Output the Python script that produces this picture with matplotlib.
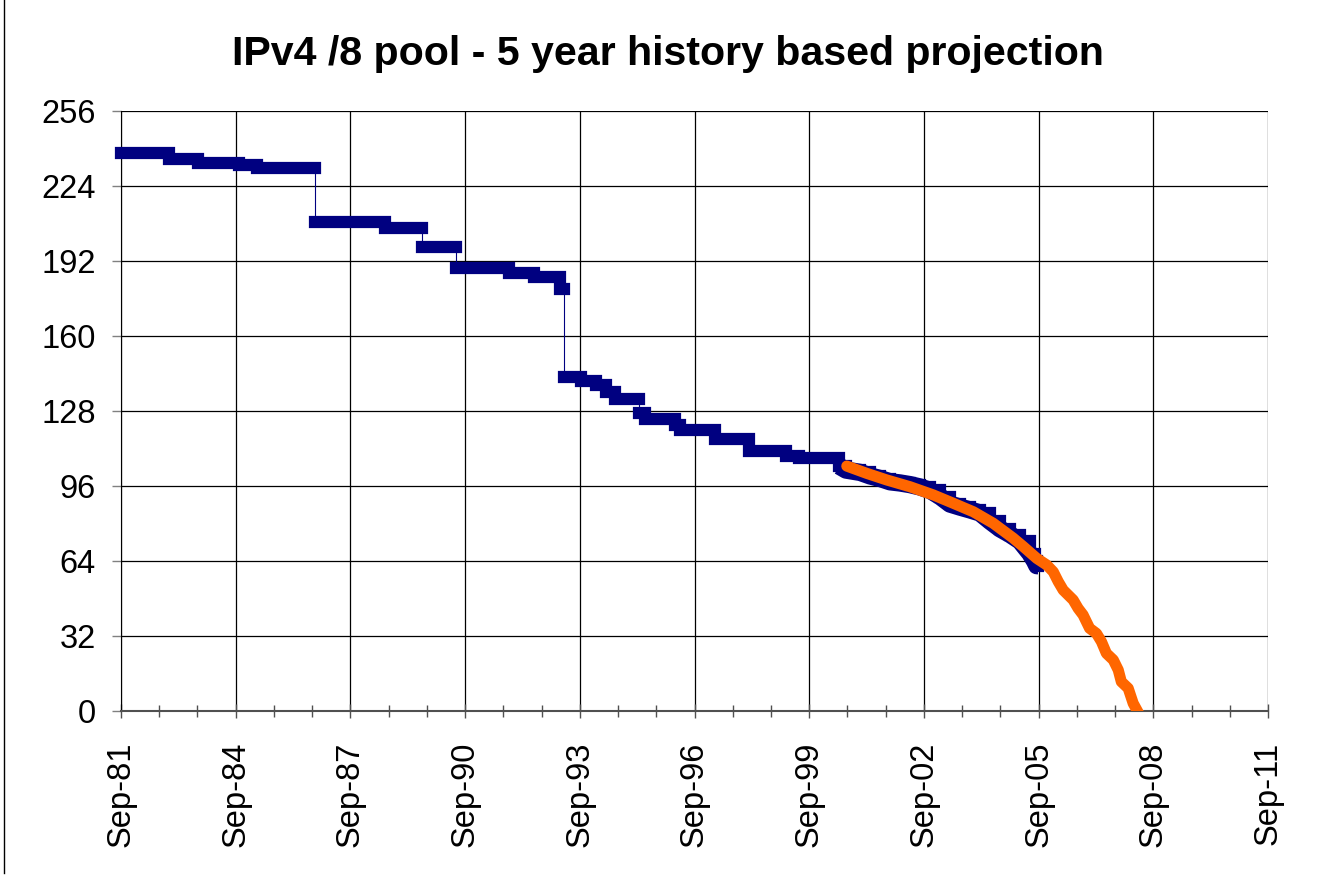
import matplotlib
matplotlib.use("Agg")
import matplotlib.pyplot as plt
from matplotlib.lines import Line2D

plt.rcParams["font.family"] = ["Liberation Sans", "DejaVu Sans"]

# free /8 blocks, history (decimal years, Sep = .67); last entry closes the final step
hist_year = [1981.67, 1982.93, 1983.68, 1984.75, 1985.22, 1986.75, 1988.56, 1989.54,
             1990.43, 1991.81, 1992.47, 1993.15, 1993.25, 1993.70, 1994.09, 1994.35,
             1994.59, 1995.22, 1995.37, 1996.15, 1996.30, 1997.20, 1998.09, 1999.06,
             1999.40, 2000.45, 2000.63, 2001.00, 2001.26, 2001.52, 2001.78, 2002.04,
             2002.30, 2002.56, 2002.83, 2003.09, 2003.35, 2003.61, 2003.87, 2004.13,
             2004.40, 2004.66, 2004.92, 2005.18, 2005.44, 2005.56, 2005.62, 2005.65]
hist_free = [238, 235.5, 234, 233, 231.5, 208.5, 206, 198,
             189, 187, 185, 180, 142.5, 141, 139, 136,
             133, 127, 124.5, 122, 119.7, 116, 111, 109,
             108, 104.5, 102.8, 101.8, 100.3, 99.2, 97.8, 97.3,
             96.6, 95.6, 94.1, 91.5, 88.3, 87, 85.8, 84.5,
             80.9, 77.7, 75.3, 72.5, 67.2, 64, 62, 62]

# 5 year history based projection
proj_year = [2000.65, 2001.17, 2001.69, 2002.30, 2002.91, 2003.44, 2003.96, 2004.48,
             2005.00, 2005.27, 2005.62, 2005.88, 2006.05, 2006.18, 2006.31, 2006.44,
             2006.57, 2006.70, 2006.83, 2007.00, 2007.18, 2007.31, 2007.44, 2007.62,
             2007.75, 2007.83, 2008.01, 2008.14, 2008.35]
proj_free = [104.5, 101.4, 98.6, 95.7, 92.2, 88.6, 85.0, 80.1,
             73.8, 70.1, 65.1, 62.3, 59.4, 55.2, 51.6, 49.5,
             47.4, 43.8, 41.0, 35.3, 33.1, 29.6, 24.6, 21.8,
             17.5, 12.5, 9.7, 3.3, -3]

x_labels = ["Sep-81", "Sep-84", "Sep-87", "Sep-90", "Sep-93", "Sep-96",
            "Sep-99", "Sep-02", "Sep-05", "Sep-08", "Sep-11"]
y_ticks = [0, 32, 64, 96, 128, 160, 192, 224, 256]

x_start = 1981 + 8 / 12
x_major = [x_start + 3 * i for i in range(len(x_labels))]
x_minor = [x_start + i for i in range(31)]

fig = plt.figure(figsize=(13.25, 8.82), dpi=100)
ax = fig.add_axes([121 / 1325, 1 - 711 / 882, 1147 / 1325, 600 / 882])

blue = "#000080"
# thick blocks (overlapping markers in the original) + thin connecting line
ax.hlines(hist_free[:-1], hist_year[:-1], hist_year[1:], colors=blue,
          lw=8.8, capstyle="projecting", zorder=3, clip_on=False)
ax.plot(hist_year, hist_free, drawstyle="steps-post", color=blue,
        lw=0.8, zorder=3)

# after 2000 the allocations are so frequent the markers merge into a wide band
dense = [i for i, y in enumerate(hist_year) if y >= 2000.4]
ax.plot([hist_year[i] for i in dense], [hist_free[i] for i in dense],
        color=blue, lw=12.5, solid_capstyle="butt", zorder=3)

ax.plot(proj_year, proj_free, color="#FF6600", lw=8,
        solid_capstyle="round", solid_joinstyle="round", zorder=4)

ax.set_xlim(x_start, x_major[-1])
ax.set_ylim(0, 256)
ax.set_xticks(x_major)
ax.set_xticklabels(x_labels, rotation=90)
ax.set_xticks(x_minor, minor=True)
ax.set_yticks(y_ticks)

ax.grid(True, which="major", color="black", lw=0.9, zorder=1)
ax.set_axisbelow(True)

for s in ["top", "right"]:
    ax.spines[s].set_visible(False)
ax.spines["left"].set_color("black")
ax.spines["left"].set_linewidth(0.8)
ax.spines["bottom"].set_color("#505050")
ax.spines["bottom"].set_linewidth(1.5)

ax.tick_params(axis="x", which="major", direction="inout", length=10, width=1,
               color="#505050", pad=17, labelsize=23.5)
ax.tick_params(axis="x", which="minor", direction="inout", length=8.6, width=1,
               color="#505050")
ax.tick_params(axis="y", direction="out", length=6.5, width=1, color="#808080",
               pad=11.5, labelsize=23.5)

fig.text(668 / 1325, 1 - 65 / 882, "IPv4 /8 pool - 5 year history based projection",
         ha="center", va="baseline", fontsize=29.6, fontweight="bold")

# chart frame, only left edge shows
fig.add_artist(Line2D([3.5 / 1325, 3.5 / 1325], [1, 1 - 873 / 882],
                      transform=fig.transFigure, color="black", lw=1))

fig.savefig("out.png", dpi=100)
